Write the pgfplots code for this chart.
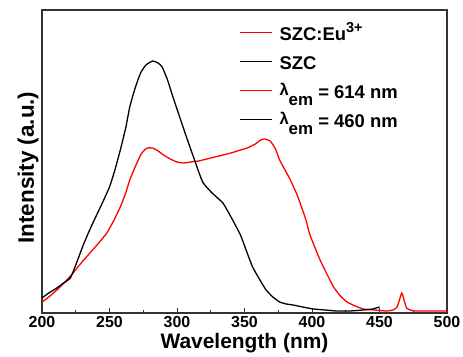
\documentclass[border=0pt]{standalone}
\usepackage{pgfplots}
\pgfplotsset{compat=1.18}
\usepackage{fontspec}
\setmainfont{Liberation Sans}
\newcommand{\mysub}[1]{\raisebox{-7bp}{\fontsize{17}{17}\selectfont #1}}
\newcommand{\mysup}[1]{\raisebox{7.5bp}{\fontsize{14.5}{14.5}\selectfont #1}}
\newcommand{\lam}{\raisebox{3bp}{\fontsize{16.5}{16.5}\selectfont λ}}
\begin{document}
\begin{tikzpicture}
\begin{axis}[
  name=ax,
  scale only axis,
  width=405bp, height=303bp,
  xmin=200, xmax=500, ymin=0, ymax=303,
  xtick={200,250,...,500},
  minor x tick num=1,
  ytick=\empty,
  xtick pos=bottom,
  tick align=inside,
  major tick length=5bp, minor tick length=3bp,
  axis line style={line width=1.2pt, draw=black!80},
  every tick/.style={line width=1pt, black!80},
  /pgf/number format/assume math mode=true,
  /pgf/number format/1000 sep={},
  tick label style={font=\fontsize{16}{18}\selectfont\bfseries},
  xlabel={Wavelength (nm)},
  ylabel={Intensity (a.u.)},
  xlabel style={font=\fontsize{21}{24}\selectfont\bfseries, yshift=1bp},
  ylabel style={font=\fontsize{22.5}{24}\selectfont\bfseries, at={(ticklabel cs:0.48)}},
  legend style={at={(0.487,0.95)}, anchor=north west, draw=none, fill=none,
    font=\fontsize{18.5}{20}\selectfont\bfseries, row sep=2bp,
    inner sep=0pt, nodes={text height=15bp, text depth=12bp, inner sep=0pt}},
  legend cell align=left,
  legend image code/.code={\draw[#1, line width=1pt] (0bp,6bp) -- (32bp,6bp); \path (39bp,0bp);},
]
\addplot[red, line width=1.3pt, smooth, tension=0.3] coordinates {
(200,11) (205,16) (211,23) (217,31) (223,40) (229,50) (235.5,60) (242,70) (248,80) (253,92) (258,106) (262,120) (265,133) (269,146) (273,158) (276,163) (278,165) (282,165) (286,162) (290,158) (295,154) (300,151) (305,150) (310,151) (316,152) (322,154) (328,156) (334,158) (340,160) (347,163) (352,165) (358,169) (362,173) (365,174) (369,172) (373,164) (376,153) (380,143) (384,133) (389,118) (393,103) (396,91) (398,80) (402,66) (406,53) (411,39) (416,26) (421,17) (426,11) (432,7) (438,4) (446,3) (455,2) (460,3) (463,6) (465,14) (466.5,20) (468,14) (470,5) (473,3) (476,2) (485,2) (500,2)
};
\addlegendentry{SZC:Eu\mysup{3+}}
\addplot[black, line width=1.3pt, smooth, tension=0.3] coordinates {
(200,15) (205,20) (211,25) (216,30) (221,35) (225,48) (230,66) (234,79) (238,91) (244,108) (250,126) (254,143) (258,163) (262,185) (265,206) (269,225) (273,240) (277,248) (282,252) (286,250) (289,246) (293,233) (297,216) (302,196) (307,176) (313,153) (319,131) (326,120) (334,110) (340,96) (347,78) (352,60) (356,46) (361,34) (366,23) (371,16) (376,11) (381,9) (386,8) (393,6) (401,4) (410,3) (418,2) (428,2) (438,3) (445,4) (450,6)
};
\addlegendentry{SZC}
\addlegendimage{red}
\addlegendentry{\lam\mysub{em} = 614 nm}
\addlegendimage{black}
\addlegendentry{\lam\mysub{em} = 460 nm}
\end{axis}
\pgfresetboundingbox
\path[use as bounding box] ([shift={(-42bp,-44bp)}]ax.south west) rectangle ([shift={(16bp,10bp)}]ax.north east);
\end{tikzpicture}
\end{document}
